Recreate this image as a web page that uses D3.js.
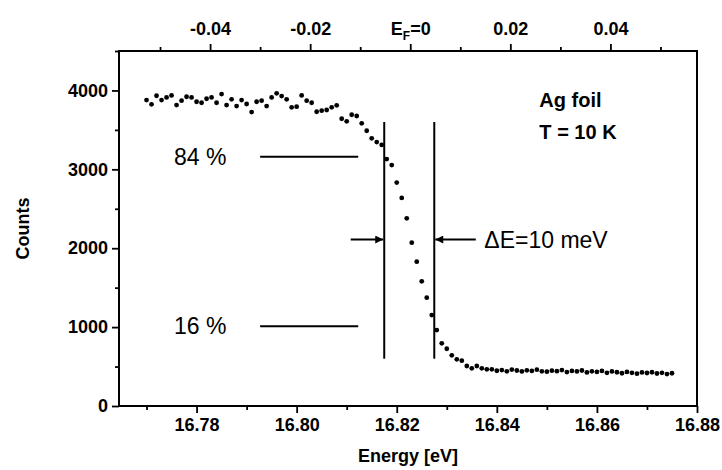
<!DOCTYPE html>
<html>
<head>
<meta charset="utf-8">
<script src="https://cdn.jsdelivr.net/npm/d3@7"></script>
<style>
  body { margin: 0; background: #fff; }
  svg { font-family: "Liberation Sans", Arial, sans-serif; }
  .axis text { font-size: 18px; font-weight: bold; fill: #000; }
  .axis line { stroke: #000; stroke-width: 1.8; }
</style>
</head>
<body>
<div id="chart"></div>
<script>
// measured spectrum (one point per meV)
var energy = [
  16.770, 16.771, 16.772, 16.773, 16.774, 16.775, 16.776, 16.777, 16.778, 16.779,
  16.780, 16.781, 16.782, 16.783, 16.784, 16.785, 16.786, 16.787, 16.788, 16.789,
  16.790, 16.791, 16.792, 16.793, 16.794, 16.795, 16.796, 16.797, 16.798, 16.799,
  16.800, 16.801, 16.802, 16.803, 16.804, 16.805, 16.806, 16.807, 16.808, 16.809,
  16.810, 16.811, 16.812, 16.813, 16.814, 16.815, 16.816, 16.817, 16.818, 16.819,
  16.820, 16.821, 16.822, 16.823, 16.824, 16.825, 16.826, 16.827, 16.828, 16.829,
  16.830, 16.831, 16.832, 16.833, 16.834, 16.835, 16.836, 16.837, 16.838, 16.839,
  16.840, 16.841, 16.842, 16.843, 16.844, 16.845, 16.846, 16.847, 16.848, 16.849,
  16.850, 16.851, 16.852, 16.853, 16.854, 16.855, 16.856, 16.857, 16.858, 16.859,
  16.860, 16.861, 16.862, 16.863, 16.864, 16.865, 16.866, 16.867, 16.868, 16.869,
  16.870, 16.871, 16.872, 16.873, 16.874, 16.875];
var counts = [
  3878, 3824, 3933, 3878, 3912, 3937, 3815, 3870, 3920, 3912,
  3857, 3844, 3895, 3912, 3844, 3954, 3815, 3887, 3802, 3878,
  3828, 3726, 3857, 3870, 3802, 3912, 3963, 3929, 3887, 3786,
  3794, 3937, 3870, 3844, 3730, 3743, 3752, 3786, 3811, 3641,
  3608, 3692, 3676, 3583, 3489, 3393, 3346, 3310, 3130, 3054,
  2832, 2638, 2379, 2070, 1829, 1580, 1373, 1153, 963, 795,
  726, 642, 592, 574, 507, 478, 507, 478, 465, 465,
  447, 455, 440, 462, 450, 438, 452, 445, 460, 440,
  435, 448, 442, 455, 430, 445, 438, 450, 425, 440,
  432, 445, 420, 438, 428, 415, 432, 420, 410, 425,
  418, 428, 412, 420, 405, 415];

var xMajor = [16.78, 16.80, 16.82, 16.84, 16.86, 16.88];
var xMinor = [16.77, 16.79, 16.81, 16.83, 16.85, 16.87];
var topMajor = [-0.04, -0.02, 0, 0.02, 0.04];
var topMinor = [-0.05, -0.03, -0.01, 0.01, 0.03, 0.05];
var yMajor = [0, 1000, 2000, 3000, 4000];
var yMinor = [500, 1500, 2500, 3500, 4500];

var EF = 16.8227;            // Fermi edge, zero of the top axis
var edgeLines = [16.8175, 16.8275];   // 84% / 16% crossing points
var levels = [{label: "84 %", value: 3160}, {label: "16 %", value: 1010}];

var W = 722, H = 470;
var margin = {top: 51, right: 25, bottom: 64, left: 119};

var svg = d3.select("#chart").append("svg")
    .attr("width", W).attr("height", H);

var x = d3.scaleLinear().domain([16.7645, 16.88]).range([margin.left, W - margin.right]);
var xTop = d3.scaleLinear().domain([16.7645 - EF, 16.88 - EF]).range([margin.left, W - margin.right]);
var y = d3.scaleLinear().domain([0, 4500]).range([H - margin.bottom, margin.top]);

var fix2 = function(d){ return d.toFixed(2); };

// bottom axis
svg.append("g").attr("class", "axis")
    .attr("transform", `translate(0,${y(0)})`)
    .call(d3.axisBottom(x).tickValues(xMajor).tickFormat(fix2).tickSize(7).tickPadding(5))
    .select(".domain").remove();
svg.append("g").attr("class", "axis")
    .attr("transform", `translate(0,${y(0)})`)
    .call(d3.axisBottom(x).tickValues(xMinor).tickFormat("").tickSize(4))
    .select(".domain").remove();

// top axis
var topAx = svg.append("g").attr("class", "axis")
    .attr("transform", `translate(0,${y(4500)})`)
    .call(d3.axisTop(xTop).tickValues(topMajor).tickFormat(fix2).tickSize(7).tickPadding(9));
topAx.select(".domain").remove();
topAx.selectAll(".tick text").filter(d => d === 0).each(function(){
  var t = d3.select(this).text("");
  t.append("tspan").text("E");
  t.append("tspan").attr("font-size", "12px").attr("dy", "5").text("F");
  t.append("tspan").attr("dy", "-5").text("=0");
});
svg.append("g").attr("class", "axis")
    .attr("transform", `translate(0,${y(4500)})`)
    .call(d3.axisTop(xTop).tickValues(topMinor).tickFormat("").tickSize(4))
    .select(".domain").remove();

// left axis
svg.append("g").attr("class", "axis")
    .attr("transform", `translate(${x.range()[0]},0)`)
    .call(d3.axisLeft(y).tickValues(yMajor).tickFormat(d3.format("d")).tickSize(7).tickPadding(4))
    .select(".domain").remove();
svg.append("g").attr("class", "axis")
    .attr("transform", `translate(${x.range()[0]},0)`)
    .call(d3.axisLeft(y).tickValues(yMinor).tickFormat("").tickSize(4))
    .select(".domain").remove();

// frame
svg.append("rect")
    .attr("x", x.range()[0]).attr("y", y(4500))
    .attr("width", x.range()[1] - x.range()[0])
    .attr("height", y(0) - y(4500))
    .attr("fill", "none").attr("stroke", "#000").attr("stroke-width", 2);

// axis titles
svg.append("text")
    .attr("x", (x.range()[0] + x.range()[1]) / 2).attr("y", 462)
    .attr("text-anchor", "middle")
    .attr("font-size", 18).attr("font-weight", "bold")
    .text("Energy [eV]");
svg.append("text")
    .attr("transform", `translate(29,${(y(0) + y(4500)) / 2}) rotate(-90)`)
    .attr("text-anchor", "middle")
    .attr("font-size", 18).attr("font-weight", "bold")
    .text("Counts");

// data points
svg.append("g").selectAll("circle")
    .data(energy)
  .enter().append("circle")
    .attr("cx", d => x(d))
    .attr("cy", (d, i) => y(counts[i]))
    .attr("r", 2.4)
    .attr("fill", "#000");

// 84% / 16% markers
var ann = svg.append("g");
levels.forEach(function(l){
  ann.append("line")
      .attr("x1", x(16.7927)).attr("x2", x(16.8123))
      .attr("y1", y(l.value)).attr("y2", y(l.value))
      .attr("stroke", "#000").attr("stroke-width", 2);
  ann.append("text")
      .attr("x", x(16.7755)).attr("y", y(l.value) + 8)
      .attr("font-size", 23)
      .text(l.label);
});

edgeLines.forEach(function(e){
  ann.append("line")
      .attr("x1", x(e)).attr("x2", x(e))
      .attr("y1", y(3600)).attr("y2", y(600))
      .attr("stroke", "#000").attr("stroke-width", 2);
});

svg.append("defs").append("marker")
    .attr("id", "arr")
    .attr("viewBox", "0 0 10 10")
    .attr("refX", 10).attr("refY", 5)
    .attr("markerWidth", 14).attr("markerHeight", 8)
    .attr("markerUnits", "userSpaceOnUse")
    .attr("orient", "auto")
  .append("path").attr("d", "M0,0L10,5L0,10z").attr("fill", "#000");

ann.append("line")
    .attr("x1", x(16.8108)).attr("x2", x(edgeLines[0]) - 1)
    .attr("y1", y(2110)).attr("y2", y(2110))
    .attr("stroke", "#000").attr("stroke-width", 2)
    .attr("marker-end", "url(#arr)");
ann.append("line")
    .attr("x1", x(16.8358)).attr("x2", x(edgeLines[1]) + 1)
    .attr("y1", y(2110)).attr("y2", y(2110))
    .attr("stroke", "#000").attr("stroke-width", 2)
    .attr("marker-end", "url(#arr)");
ann.append("text")
    .attr("x", x(16.8375)).attr("y", y(2110) + 8)
    .attr("font-size", 23)
    .text("\u0394E=10 meV");

ann.append("text")
    .attr("x", x(16.8485)).attr("y", 107)
    .attr("font-size", 20).attr("font-weight", "bold")
    .text("Ag foil");
ann.append("text")
    .attr("x", x(16.8485)).attr("y", 139)
    .attr("font-size", 20).attr("font-weight", "bold")
    .text("T = 10 K");
</script>
</body>
</html>
